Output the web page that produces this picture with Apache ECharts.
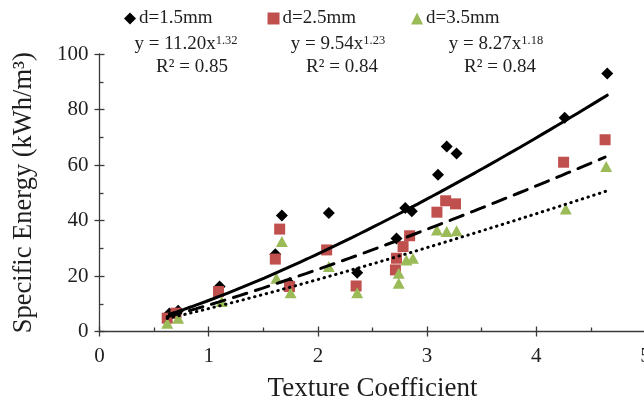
<!DOCTYPE html>
<html>
<head>
<meta charset="utf-8">
<script src="https://cdn.jsdelivr.net/npm/echarts@6/dist/echarts.min.js"></script>
<style>
  html, body { margin: 0; padding: 0; background: #ffffff; }
  #chart { width: 644px; height: 405px; }
</style>
</head>
<body>
<div id="chart"></div>
<script>
// Specific energy vs. texture coefficient for three bit diameters
const seriesNames = ['d=1.5mm', 'd=2.5mm', 'd=3.5mm'];

const tc15 = [0.64, 0.72, 1.10, 1.61, 1.67, 1.74, 2.10, 2.36, 2.72, 2.80, 2.86, 3.10, 3.18, 3.27, 4.26, 4.65];
const se15 = [6.5, 7.5, 16.2, 27.8, 41.8, 17.5, 42.7, 21.2, 33.5, 44.5, 43.3, 56.5, 66.7, 64.1, 77.0, 93.0];

const tc25 = [0.62, 0.70, 1.09, 1.61, 1.65, 1.74, 2.08, 2.35, 2.71, 2.72, 2.78, 2.84, 3.09, 3.17, 3.26, 4.25, 4.63];
const se25 = [4.8, 6.6, 14.4, 26.1, 36.9, 16.2, 29.4, 16.4, 22.2, 26.4, 30.6, 34.5, 43.0, 47.1, 46.0, 61.0, 69.1];

const tc35 = [0.62, 0.72, 1.12, 1.62, 1.67, 1.75, 2.10, 2.36, 2.74, 2.74, 2.81, 2.87, 3.09, 3.18, 3.27, 4.27, 4.64];
const se35 = [3.0, 4.8, 10.8, 19.2, 32.4, 14.0, 23.4, 14.0, 17.4, 21.0, 25.8, 26.4, 36.6, 36.0, 36.3, 44.1, 59.5];

// Power-law fits y = a * x^b and their R² values
const fitCoef = [11.20, 9.54, 8.27];
const fitExp = [1.32, 1.23, 1.18];
const fitR2 = ['0.85', '0.84', '0.84'];

const xTickValues = [0, 1, 2, 3, 4, 5];
const yTickValues = [0, 20, 40, 60, 80, 100];

const serif = '"Liberation Serif", "Times New Roman", serif';
const axisColor = '#3a3a3a';
const textColor = '#1e1e1e';

const tcSets = [tc15, tc25, tc35];
const seSets = [se15, se25, se35];

function pairs(xs, ys) { return xs.map((x, i) => [x, ys[i]]); }

// Sample the fitted curve over the range of its own data
function fitCurve(k) {
  const xs = tcSets[k];
  const lo = Math.min(...xs), hi = Math.max(...xs);
  const pts = [];
  const n = 60;
  for (let i = 0; i <= n; i++) {
    const x = lo + (hi - lo) * i / n;
    pts.push([x, fitCoef[k] * Math.pow(x, fitExp[k])]);
  }
  return pts;
}

const markers = [
  { symbol: 'diamond', size: [12, 12], color: '#000000' },
  { symbol: 'rect', size: [11, 11], color: '#c0504d' },
  { symbol: 'triangle', size: [12, 11], color: '#9bbb59' }
];
const fitLines = [
  { type: 'solid', cap: 'round' },
  { type: [14, 9], cap: 'round' },
  { type: [0.5, 5.5], cap: 'round' }
];

const scatterSeries = seriesNames.map((name, k) => ({
  name: name,
  type: 'scatter',
  data: pairs(tcSets[k], seSets[k]),
  symbol: markers[k].symbol,
  symbolSize: markers[k].size,
  itemStyle: { color: markers[k].color, opacity: 1 },
  xAxisIndex: 0, yAxisIndex: 0,
  z: 2 + k,
  emphasis: { disabled: true }
}));

const lineSeries = seriesNames.map((name, k) => ({
  name: name + ' fit',
  type: 'line',
  data: fitCurve(k),
  showSymbol: false,
  symbol: 'none',
  lineStyle: { color: '#000000', width: 3, type: fitLines[k].type, cap: fitLines[k].cap },
  xAxisIndex: 0, yAxisIndex: 0,
  z: 6,
  silent: true
}));

// Equation and R² labels above the plot
const eqCenters = [186, 338, 496];
const r2Centers = [192, 342, 500];
const eqGraphics = [];
fitCoef.forEach((a, k) => {
  eqGraphics.push({
    type: 'text', x: eqCenters[k], y: 44, z: 10,
    style: {
      text: 'y = ' + a.toFixed(2) + 'x{sup|' + fitExp[k].toFixed(2) + '}',
      rich: { sup: { fontFamily: serif, fontSize: 12.5, fill: textColor, verticalAlign: 'top' } },
      fontFamily: serif, fontSize: 19, fill: textColor,
      align: 'center', verticalAlign: 'middle'
    }
  });
  eqGraphics.push({
    type: 'text', x: r2Centers[k], y: 67, z: 10,
    style: {
      text: 'R² = ' + fitR2[k],
      fontFamily: serif, fontSize: 19, fill: textColor,
      align: 'center', verticalAlign: 'middle'
    }
  });
});

const chart = echarts.init(document.getElementById('chart'), null, { renderer: 'canvas' });

const xMin = xTickValues[0], xMax = xTickValues[xTickValues.length - 1];
const yMin = yTickValues[0], yMax = yTickValues[yTickValues.length - 1];
const xStep = xTickValues[1] - xTickValues[0];
const yStep = yTickValues[1] - yTickValues[0];

chart.setOption({
  animation: false,
  backgroundColor: '#ffffff',
  grid: { left: 99.5, top: 54, width: 546, height: 277.5, containLabel: false, outerBoundsMode: 'none' },
  legend: {
    data: seriesNames,
    left: 119, top: 4,
    itemGap: 55, itemWidth: 12, itemHeight: 12,
    selectedMode: false,
    textStyle: { fontFamily: serif, fontSize: 19, color: textColor, padding: [0, 0, 0, -2] }
  },
  xAxis: [
    {
      type: 'value', min: xMin, max: xMax, interval: xStep, position: 'bottom',
      axisLine: { show: true, onZero: false, lineStyle: { color: axisColor, width: 1.3 } },
      axisTick: { show: true, inside: false, length: 5, lineStyle: { color: axisColor, width: 1.3 } },
      axisLabel: { margin: 14, fontFamily: serif, fontSize: 21, color: textColor, showMaxLabel: true, showMinLabel: true, hideOverlap: false },
      splitLine: { show: false },
      name: 'Texture Coefficient', nameLocation: 'middle', nameGap: 44,
      nameTextStyle: { fontFamily: serif, fontSize: 27, color: textColor }
    },
    {
      type: 'value', min: xMin, max: xMax, interval: xStep, position: 'bottom',
      axisLine: { show: false, onZero: false },
      axisTick: { show: true, inside: true, length: 5, lineStyle: { color: axisColor, width: 1.3 } },
      minorTick: { show: true, splitNumber: 2, length: 4, lineStyle: { color: axisColor, width: 1.3 } },
      axisLabel: { show: false },
      splitLine: { show: false }
    }
  ],
  yAxis: [
    {
      type: 'value', min: yMin, max: yMax, interval: yStep, position: 'left',
      axisLine: { show: true, onZero: false, lineStyle: { color: axisColor, width: 1.3 } },
      axisTick: { show: true, inside: false, length: 5, lineStyle: { color: axisColor, width: 1.3 } },
      axisLabel: { margin: 11, fontFamily: serif, fontSize: 21, color: textColor, showMaxLabel: true, showMinLabel: true },
      splitLine: { show: false },
      name: 'Specific Energy (kWh/m³)', nameLocation: 'middle', nameGap: 62,
      nameTextStyle: { fontFamily: serif, fontSize: 26.5, color: textColor }
    },
    {
      type: 'value', min: yMin, max: yMax, interval: yStep, position: 'left',
      axisLine: { show: false, onZero: false },
      axisTick: { show: true, inside: true, length: 5, lineStyle: { color: axisColor, width: 1.3 } },
      minorTick: { show: true, splitNumber: 2, length: 4, lineStyle: { color: axisColor, width: 1.3 } },
      axisLabel: { show: false },
      splitLine: { show: false }
    }
  ],
  graphic: eqGraphics,
  series: scatterSeries.concat(lineSeries)
});
</script>
</body>
</html>
